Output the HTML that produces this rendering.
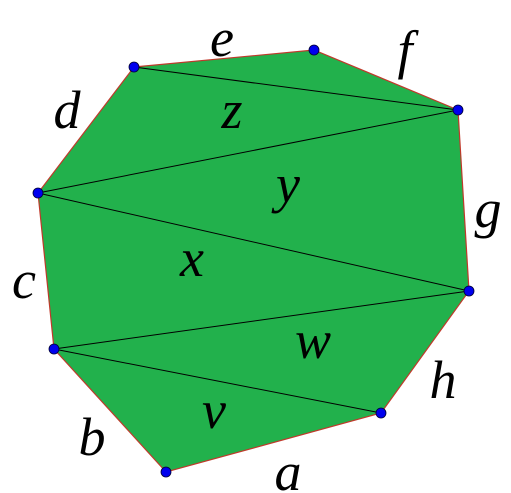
<!DOCTYPE html>
<html><head><meta charset="utf-8"><style>
html,body{margin:0;padding:0;background:#fff;}
svg{display:block;}
</style></head><body>
<svg id="chart" width="511" height="493" viewBox="0 0 511 493"></svg>
<script>
const vx = [134, 314, 458, 469, 381, 166, 54, 38];
const vy = [67, 50, 110, 291, 413, 472, 349, 193];
const diagFrom = [0, 7, 7, 6, 6];
const diagTo = [2, 2, 3, 3, 4];
const labels = ['e','f','d','z','y','g','c','x','w','h','v','b','a'];
const labelX = [222, 405, 67, 232, 288, 488, 24, 192, 313, 443, 214, 92, 288];
const labelY = [36, 48, 108, 108, 182, 207, 278, 256, 338, 378, 408, 435, 470];

const NS = 'http://www.w3.org/2000/svg';
const svg = document.getElementById('chart');
function mk(t, a){const e=document.createElementNS(NS,t);for(const k in a)e.setAttribute(k,a[k]);svg.appendChild(e);return e;}

const pts = vx.map((x,i)=>x+','+vy[i]).join(' ');
const poly = mk('polygon',{points:pts,fill:'#22b14c',stroke:'#c0392b','stroke-width':1.2});



for (let i=0;i<diagFrom.length;i++){
  const l = mk('line',{x1:vx[diagFrom[i]],y1:vy[diagFrom[i]],x2:vx[diagTo[i]],y2:vy[diagTo[i]],stroke:'#000','stroke-width':1});
  
  
}
for (let i=0;i<vx.length;i++){
  const c = mk('circle',{cx:vx[i],cy:vy[i],r:5,fill:'#0000ee',stroke:'#000033','stroke-width':0.8});
  
  
}
for (let i=0;i<labels.length;i++){
  const t = mk('text',{x:labelX[i],y:labelY[i]+2,'font-family':'"Liberation Serif","DejaVu Serif",serif','font-style':'italic','font-size':54,'text-anchor':'middle','dominant-baseline':'central',fill:'#000'});
  t.textContent = labels[i];
  
  
}
</script>
</body></html>
